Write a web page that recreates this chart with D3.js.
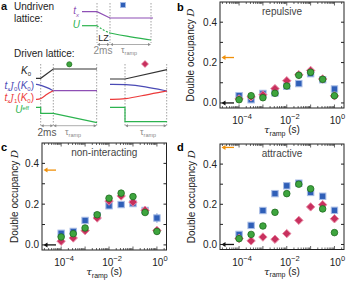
<!DOCTYPE html>
<html>
<head>
<meta charset="utf-8">
<script src="https://cdn.jsdelivr.net/npm/d3@7"></script>
<style>
body { margin: 0; background: #fff; }
svg { display: block; font-family: "Liberation Sans", Arial, sans-serif; }
</style>
</head>
<body>
<script>
// ramp durations (s)
var tau = [1e-4, 3.2e-4, 1e-3, 3.2e-3, 1e-2, 3.2e-2, 0.1, 0.32, 1];

// double occupancy, panel b (repulsive)
var repBlue  = [0.036, 0.016, 0.047, 0.050, 0.083, 0.096, 0.145, 0.115, 0.069];
var repRed   = [0.020, 0.030, 0.040, 0.071, 0.110, 0.140, 0.161, 0.119, 0.035];
var repGreen = [0.016, 0.036, 0.026, 0.048, 0.084, 0.137, 0.152, 0.117, 0.036];
// panel c (non-interacting)
var nonBlue  = [0.057, 0.066, 0.120, 0.143, 0.192, 0.198, 0.203, 0.169, 0.132];
var nonRed   = [0.018, 0.034, 0.070, 0.132, 0.215, 0.240, 0.210, 0.170, 0.071];
var nonGreen = [0.039, 0.055, 0.083, 0.148, 0.229, 0.254, 0.237, 0.159, 0.066];
// panel d (attractive)
var attBlue  = [0.050, 0.095, 0.169, 0.253, 0.292, 0.305, 0.259, 0.240, 0.170];
var attRed   = [0.030, 0.018, 0.037, 0.026, 0.054, 0.120, 0.187, 0.198, 0.128];
var attGreen = [0.029, 0.050, 0.092, 0.160, 0.253, 0.300, 0.277, 0.177, 0.059];
// error bars
var errSmall = [0.008, 0.008, 0.008, 0.008, 0.008, 0.008, 0.008, 0.008, 0.010];
var errNonBlue = [0.008, 0.008, 0.008, 0.008, 0.010, 0.008, 0.010, 0.008, 0.022];

// reference levels (orange = thermal, black = initial)
var orangeLevel = {b: 0.225, c: 0.367, d: 0.483};
var blackLevel = 0.0;

var yTicks = [0, 0.1, 0.2, 0.3, 0.4];
var xTickExp = [-4, -2, 0];

var W = 350, H = 281;
var svg = d3.select("body").append("svg").attr("width", W).attr("height", H);

var cBlue = "#2f5fb8", cBlueEdge = "#a9bde6";
var cRed = "#c8305e", cRedEdge = "#e98aa5";
var cGreen = "#3ea53e", cGreenEdge = "#1e6b1e";
var cOrange = "#f0900a";

function panel(opts) {
  var x = d3.scaleLog().domain([Math.pow(10, -4.8), Math.pow(10, 0.4)]).range([opts.left, opts.right]);
  var y = d3.scaleLinear().domain([-0.025, 0.5]).range([opts.bottom, opts.top]);
  var g = svg.append("g");

  // frame
  g.append("rect").attr("x", opts.left).attr("y", opts.top)
    .attr("width", opts.right - opts.left).attr("height", opts.bottom - opts.top)
    .attr("fill", "none").attr("stroke", "#222").attr("stroke-width", 1);

  // y ticks, both sides, inward
  yTicks.forEach(function(t) {
    g.append("line").attr("x1", opts.left).attr("x2", opts.left + 3)
      .attr("y1", y(t)).attr("y2", y(t)).attr("stroke", "#222");
    g.append("line").attr("x1", opts.right).attr("x2", opts.right - 3)
      .attr("y1", y(t)).attr("y2", y(t)).attr("stroke", "#222");
    if (Math.round(t * 10) % 2 === 0) {
      g.append("text").attr("x", opts.left - 3).attr("y", y(t) + 3.5)
        .attr("text-anchor", "end").style("font-size", "10px").attr("fill", "#222")
        .text(t.toFixed(1));
    }
  });

  // x ticks (major + log minor), top and bottom
  for (var e = -5; e <= 0; e++) {
    for (var m = 1; m <= 9; m++) {
      var v = m * Math.pow(10, e);
      if (v < x.domain()[0] || v > x.domain()[1]) continue;
      var len = (m === 1) ? 3.5 : 2;
      g.append("line").attr("x1", x(v)).attr("x2", x(v))
        .attr("y1", opts.bottom).attr("y2", opts.bottom - len).attr("stroke", "#222").attr("stroke-width", 0.7);
      g.append("line").attr("x1", x(v)).attr("x2", x(v))
        .attr("y1", opts.top).attr("y2", opts.top + len).attr("stroke", "#222").attr("stroke-width", 0.7);
    }
  }
  xTickExp.forEach(function(e) {
    var t = g.append("text").attr("x", x(Math.pow(10, e)) + 3).attr("y", opts.bottom + 16)
      .attr("text-anchor", "middle").style("font-size", "10px").attr("fill", "#222");
    t.append("tspan").text("10");
    t.append("tspan").attr("dy", -5).style("font-size", "7.5px").text(e === 0 ? "0" : "\u2212" + (-e));
  });

  // axis labels
  var cx = (opts.left + opts.right) / 2, cy = (opts.top + opts.bottom) / 2;
  var xl = g.append("text").attr("x", cx).attr("y", opts.bottom + 25)
    .attr("text-anchor", "middle").style("font-size", "10px").attr("fill", "#222");
  xl.append("tspan").style("font-style", "italic").style("font-family", "DejaVu Serif").text("\u03c4");
  xl.append("tspan").attr("dy", 2.5).style("font-size", "7px").text("ramp");
  xl.append("tspan").attr("dy", -2.5).text(" (s)");

  var yl = g.append("text").attr("transform", "translate(" + opts.ylabelX + "," + cy + ") rotate(-90)")
    .attr("text-anchor", "middle").style("font-size", "10px").attr("fill", "#222");
  yl.append("tspan").text("Double occupancy ");
  yl.append("tspan").style("font-family", "DejaVu Serif").style("font-style", "italic").text("D");

  // title
  g.append("text").attr("x", cx).attr("y", opts.top + 13).attr("text-anchor", "middle")
    .style("font-size", "10px").attr("fill", "#444").text(opts.title);

  // panel letter
  g.append("text").attr("x", opts.letterX).attr("y", opts.letterY)
    .style("font-size", "11px").style("font-weight", "bold").text(opts.letter);

  // reference arrows
  function arrow(val, col) {
    var yy = y(val);
    g.append("line").attr("x1", opts.left + 3).attr("x2", opts.left + 14)
      .attr("y1", yy).attr("y2", yy).attr("stroke", col).attr("stroke-width", 1.3);
    g.append("path").attr("d", "M" + (opts.left + 1.5) + "," + yy + " l4,-2.5 l0,5 z").attr("fill", col);
  }
  arrow(opts.orange, cOrange);
  arrow(blackLevel, "#111");

  // data series
  function errs(vals, err, col) {
    g.selectAll(null).data(vals).enter().append("line")
      .attr("x1", function(d, i) { return x(tau[i]); })
      .attr("x2", function(d, i) { return x(tau[i]); })
      .attr("y1", function(d, i) { return y(d - err[i]); })
      .attr("y2", function(d, i) { return y(d + err[i]); })
      .attr("stroke", col).attr("stroke-width", 1);
  }
  errs(opts.blue, opts.blueErr || errSmall, cBlue);
  g.selectAll(null).data(opts.blue).enter().append("rect")
    .attr("x", function(d, i) { return x(tau[i]) - 3.2; })
    .attr("y", function(d) { return y(d) - 3.2; })
    .attr("width", 6.4).attr("height", 6.4)
    .attr("fill", cBlue).attr("stroke", cBlueEdge).attr("stroke-width", 1);

  errs(opts.red, errSmall, cRed);
  g.selectAll(null).data(opts.red).enter().append("path")
    .attr("d", function(d, i) {
      var px = x(tau[i]), py = y(d);
      return "M" + px + "," + (py - 4.2) + " L" + (px + 4.2) + "," + py + " L" + px + "," + (py + 4.2) + " L" + (px - 4.2) + "," + py + "Z";
    })
    .attr("fill", cRed).attr("stroke", cRedEdge).attr("stroke-width", 1);

  errs(opts.green, errSmall, cGreen);
  g.selectAll(null).data(opts.green).enter().append("circle")
    .attr("cx", function(d, i) { return x(tau[i]); })
    .attr("cy", function(d) { return y(d); })
    .attr("r", 3.3)
    .attr("fill", cGreen).attr("stroke", cGreenEdge).attr("stroke-width", 0.8);
}

panel({left: 220, right: 344, top: 2, bottom: 108, title: "repulsive", letter: "b",
  letterX: 177, letterY: 11, ylabelX: 194, orange: orangeLevel.b,
  blue: repBlue, red: repRed, green: repGreen});
panel({left: 42, right: 166.5, top: 143, bottom: 250, title: "non-interacting", letter: "c",
  letterX: 1, letterY: 151, ylabelX: 18, orange: orangeLevel.c,
  blue: nonBlue, red: nonRed, green: nonGreen, blueErr: errNonBlue});
panel({left: 220, right: 344, top: 144, bottom: 249.5, title: "attractive", letter: "d",
  letterX: 177, letterY: 151, ylabelX: 195, orange: orangeLevel.d,
  blue: attBlue, red: attRed, green: attGreen});

// ---------- panel a: ramp schematics ----------
var a = svg.append("g");
var lineGen = d3.line().x(function(p) { return p[0]; }).y(function(p) { return p[1]; });
var curveGen = d3.line().x(function(p) { return p[0]; }).y(function(p) { return p[1]; }).curve(d3.curveBasis);
var cPurple = "#8e4fb5", cLGreen = "#2cb34f", cIndigo = "#4a4ab5", cLRed = "#ec3a3a", cGray = "#8a8a8a";

function path(pts, col, curved, dash) {
  a.append("path").attr("d", (curved ? curveGen : lineGen)(pts)).attr("fill", "none")
    .attr("stroke", col).attr("stroke-width", 1.2).attr("stroke-dasharray", dash || null);
}
function vdash(xx, y1, y2) {
  a.append("line").attr("x1", xx).attr("x2", xx).attr("y1", y1).attr("y2", y2)
    .attr("stroke", cGray).attr("stroke-width", 0.8).attr("stroke-dasharray", "1.5,1.5");
}
function darrow(x1, x2, yy) {
  a.append("line").attr("x1", x1 + 1).attr("x2", x2 - 1).attr("y1", yy).attr("y2", yy)
    .attr("stroke", cGray).attr("stroke-width", 0.7);
  a.append("path").attr("d", "M" + x1 + "," + yy + " l3,-1.5 l0,3 z").attr("fill", cGray);
  a.append("path").attr("d", "M" + x2 + "," + yy + " l-3,-1.5 l0,3 z").attr("fill", cGray);
}
function txt(xx, yy, s, col, size, anchor) {
  return a.append("text").attr("x", xx).attr("y", yy).attr("fill", col || "#222")
    .style("font-size", (size || 10) + "px").attr("text-anchor", anchor || "start").text(s);
}

txt(1, 10, "a", "#111", 11).style("font-weight", "bold");
txt(14, 10, "Undriven", "#222", 10);
txt(14, 22, "lattice:", "#222", 10);

// undriven
vdash(97, 3, 43); vdash(110, 3, 43); vdash(151, 3, 43);
path([[82, 11.7], [97, 11.7], [110, 18], [153, 18]], cPurple);
path([[82, 25.7], [97, 25.7]], cLGreen);
path([[97, 25.7], [103, 30], [110, 33]], cLGreen, true, "2,1.5");
path([[110, 33], [125, 36], [151, 40]], cLGreen, true);
var tx = txt(79, 14, "t", cPurple, 10, "end").style("font-style", "italic");
tx.append("tspan").attr("dy", 2.5).style("font-size", "6px").text("x");
txt(80, 28, "U", cLGreen, 10, "end").style("font-style", "italic");
a.append("rect").attr("x", 120.5).attr("y", 2.5).attr("width", 5).attr("height", 5)
  .attr("fill", cBlue).attr("stroke", cBlueEdge).attr("stroke-width", 0.8);
txt(103.5, 41, "LZ", "#222", 9, "middle");
darrow(97, 110, 44.5); darrow(110, 151, 44.5);
txt(103, 54, "2ms", cGray, 10, "middle");
var tr = txt(121, 53, "\u03c4", cGray, 9, "start");
tr.append("tspan").attr("dy", 2).style("font-size", "5.5px").text("ramp");

txt(14, 57, "Driven lattice:", "#222", 10);

// driven, left (green circle)
vdash(40.7, 64, 127); vdash(53.3, 64, 127); vdash(96.7, 64, 127);
path([[36, 78.3], [40.7, 78.3], [53.3, 69], [97, 69]], "#333");
path([[36, 84.3], [40.7, 85], [47, 87.5], [53.3, 90.7]], cIndigo, true);
path([[53.3, 90.7], [97, 90.7]], cPurple);
path([[36, 99.3], [40.7, 99.3], [47, 94], [53.3, 90.7]], cLRed, true);
path([[36, 107.3], [40.7, 107.3], [40.7, 113.3], [53.3, 113.3], [97, 122.7]], cLGreen);
a.append("circle").attr("cx", 69.3).attr("cy", 64.3).attr("r", 2.6)
  .attr("fill", cGreen).attr("stroke", cGreenEdge).attr("stroke-width", 0.7);
darrow(40.7, 53.3, 125.7); darrow(53.3, 96.7, 125.7);
txt(47, 136, "2ms", "#555", 10, "middle");
var tr2 = txt(65, 135, "\u03c4", cGray, 9, "start");
tr2.append("tspan").attr("dy", 2).style("font-size", "5.5px").text("ramp");

// labels of driven lines
var k0 = txt(31, 74, "K", "#222", 10, "end").style("font-style", "italic");
k0.append("tspan").attr("dy", 2).style("font-size", "6px").style("font-style", "normal").text("0");
function besselLabel(yy, col, n) {
  var t = txt(34, yy, "", col, 10, "end");
  t.append("tspan").style("font-style", "italic").text("t");
  t.append("tspan").attr("dy", 2).style("font-size", "6px").text("x");
  t.append("tspan").attr("dy", -2).style("font-style", "italic").style("font-family", "DejaVu Serif").style("font-size", "9px").text("J");
  t.append("tspan").attr("dy", 2).style("font-size", "6px").text(n);
  t.append("tspan").attr("dy", -2).text("(");
  t.append("tspan").style("font-style", "italic").text("K");
  t.append("tspan").attr("dy", 2).style("font-size", "6px").text("0");
  t.append("tspan").attr("dy", -2).text(")");
}
besselLabel(89, cIndigo, "0");
besselLabel(101, cLRed, "1");
var ue = txt(29, 113, "U", cLGreen, 10, "end").style("font-style", "italic");
ue.append("tspan").attr("dy", -3).style("font-size", "6px").style("font-style", "normal").text("eff");

// driven, right (red diamond)
vdash(125, 64, 127); vdash(166.7, 64, 127);
path([[110, 79], [125, 79], [167, 69.7]], "#333");
path([[110, 84.3], [125, 84.3], [145, 86.5], [167, 91]], cIndigo, true);
path([[110, 99.3], [125, 99.3], [145, 95], [167, 91]], cLRed, true);
path([[110, 107.3], [125, 107.3], [125, 121.7], [167, 121.7]], cLGreen);
a.append("path").attr("d", "M145,60.5 L148.5,64 L145,67.5 L141.5,64 Z")
  .attr("fill", cRed).attr("stroke", cRedEdge).attr("stroke-width", 0.7);
darrow(125, 166.7, 125.7);
var tr3 = txt(140, 135, "\u03c4", cGray, 9, "start");
tr3.append("tspan").attr("dy", 2).style("font-size", "5.5px").text("ramp");
</script>
</body>
</html>
